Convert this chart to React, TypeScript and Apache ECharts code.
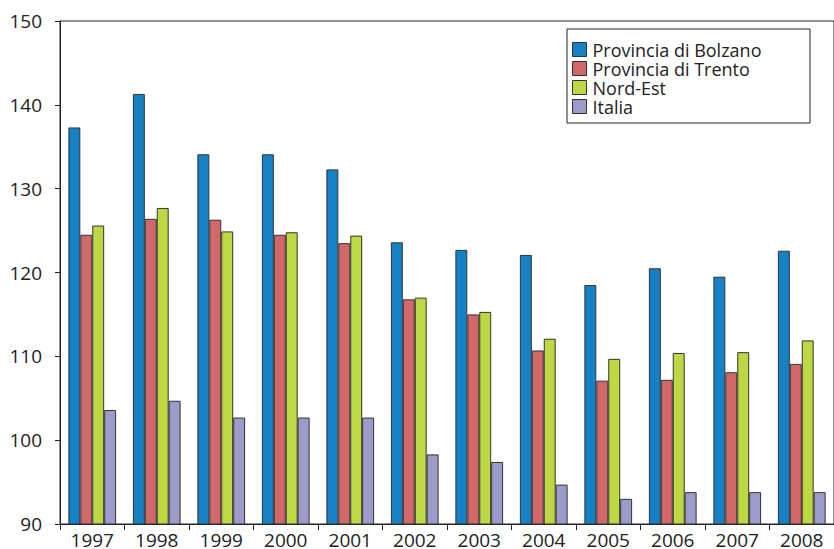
import React, { useEffect, useRef } from "react";
import * as echarts from "echarts";

const years = ["1997", "1998", "1999", "2000", "2001", "2002", "2003", "2004", "2005", "2006", "2007", "2008"];
const bolzano = [137.3, 141.3, 134.1, 134.1, 132.3, 123.6, 122.7, 122.1, 118.5, 120.5, 119.5, 122.6];
const trento = [124.5, 126.4, 126.3, 124.5, 123.5, 116.8, 115.0, 110.7, 107.1, 107.2, 108.1, 109.1];
const nordEst = [125.6, 127.7, 124.9, 124.8, 124.4, 117.0, 115.3, 112.1, 109.7, 110.4, 110.5, 111.9];
const italia = [103.6, 104.7, 102.7, 102.7, 102.7, 98.3, 97.4, 94.7, 93.0, 93.8, 93.8, 93.8];
const seriesNames = ["Provincia di Bolzano", "Provincia di Trento", "Nord-Est", "Italia"];
const colors = ["#1682C5", "#D2686A", "#BED844", "#9C9CCB"];

const FONT = "'Open Sans', sans-serif";

export default function App() {
  const ref = useRef<HTMLDivElement>(null);
  useEffect(() => {
    if (!ref.current) return;
    const chart = echarts.init(ref.current, null, { renderer: "svg" });
    const data = [bolzano, trento, nordEst, italia];
    chart.setOption({
      animation: false,
      backgroundColor: "#ffffff",
      grid: {
        left: 60,
        top: 21,
        right: -8,
        bottom: 23,
        show: true,
        borderColor: "#222",
        borderWidth: 1,
        containLabel: false,
      },
      legend: {
        orient: "vertical",
        left: 572,
        top: 40,
        itemWidth: 14,
        itemHeight: 14,
        itemGap: 0,
        padding: 0,
        icon: "rect",
        itemStyle: { borderColor: "#333", borderWidth: 1 },
        textStyle: {
          fontFamily: FONT,
          fontSize: 18,
          lineHeight: 19,
          color: "#222",
          padding: [0, 0, 0, 1],
        },
        data: seriesNames,
      },
      graphic: [
        {
          type: "rect",
          shape: { x: 567, y: 29, width: 243, height: 94 },
          style: { fill: "#fff", stroke: "#222", lineWidth: 1 },
          z: 0,
          zlevel: 0,
        },
      ],
      xAxis: {
        type: "category",
        data: years,
        axisLine: { show: true, lineStyle: { color: "#222", width: 1 } },
        axisTick: { show: true, length: 6, lineStyle: { color: "#222" } },
        axisLabel: { fontFamily: FONT, fontSize: 19, color: "#222", margin: 6 },
      },
      yAxis: {
        type: "value",
        min: 90,
        max: 150,
        interval: 10,
        splitLine: { show: false },
        axisLine: { show: true, lineStyle: { color: "#222", width: 1 } },
        axisTick: { show: true, length: 5, lineStyle: { color: "#222" } },
        axisLabel: { fontFamily: FONT, fontSize: 19, color: "#222", margin: 18 },
      },
      series: seriesNames.map((name, i) => ({
        name,
        type: "bar",
        data: data[i],
        barGap: "0%",
        barCategoryGap: "26%",
        itemStyle: { color: colors[i], borderColor: "#333", borderWidth: 1 },
        z: 2,
      })),
    });
    return () => chart.dispose();
  }, []);
  return (
    <div
      ref={ref}
      style={{ position: "fixed", left: 0, top: 0, width: 834, height: 549, background: "#fff" }}
    />
  );
}
